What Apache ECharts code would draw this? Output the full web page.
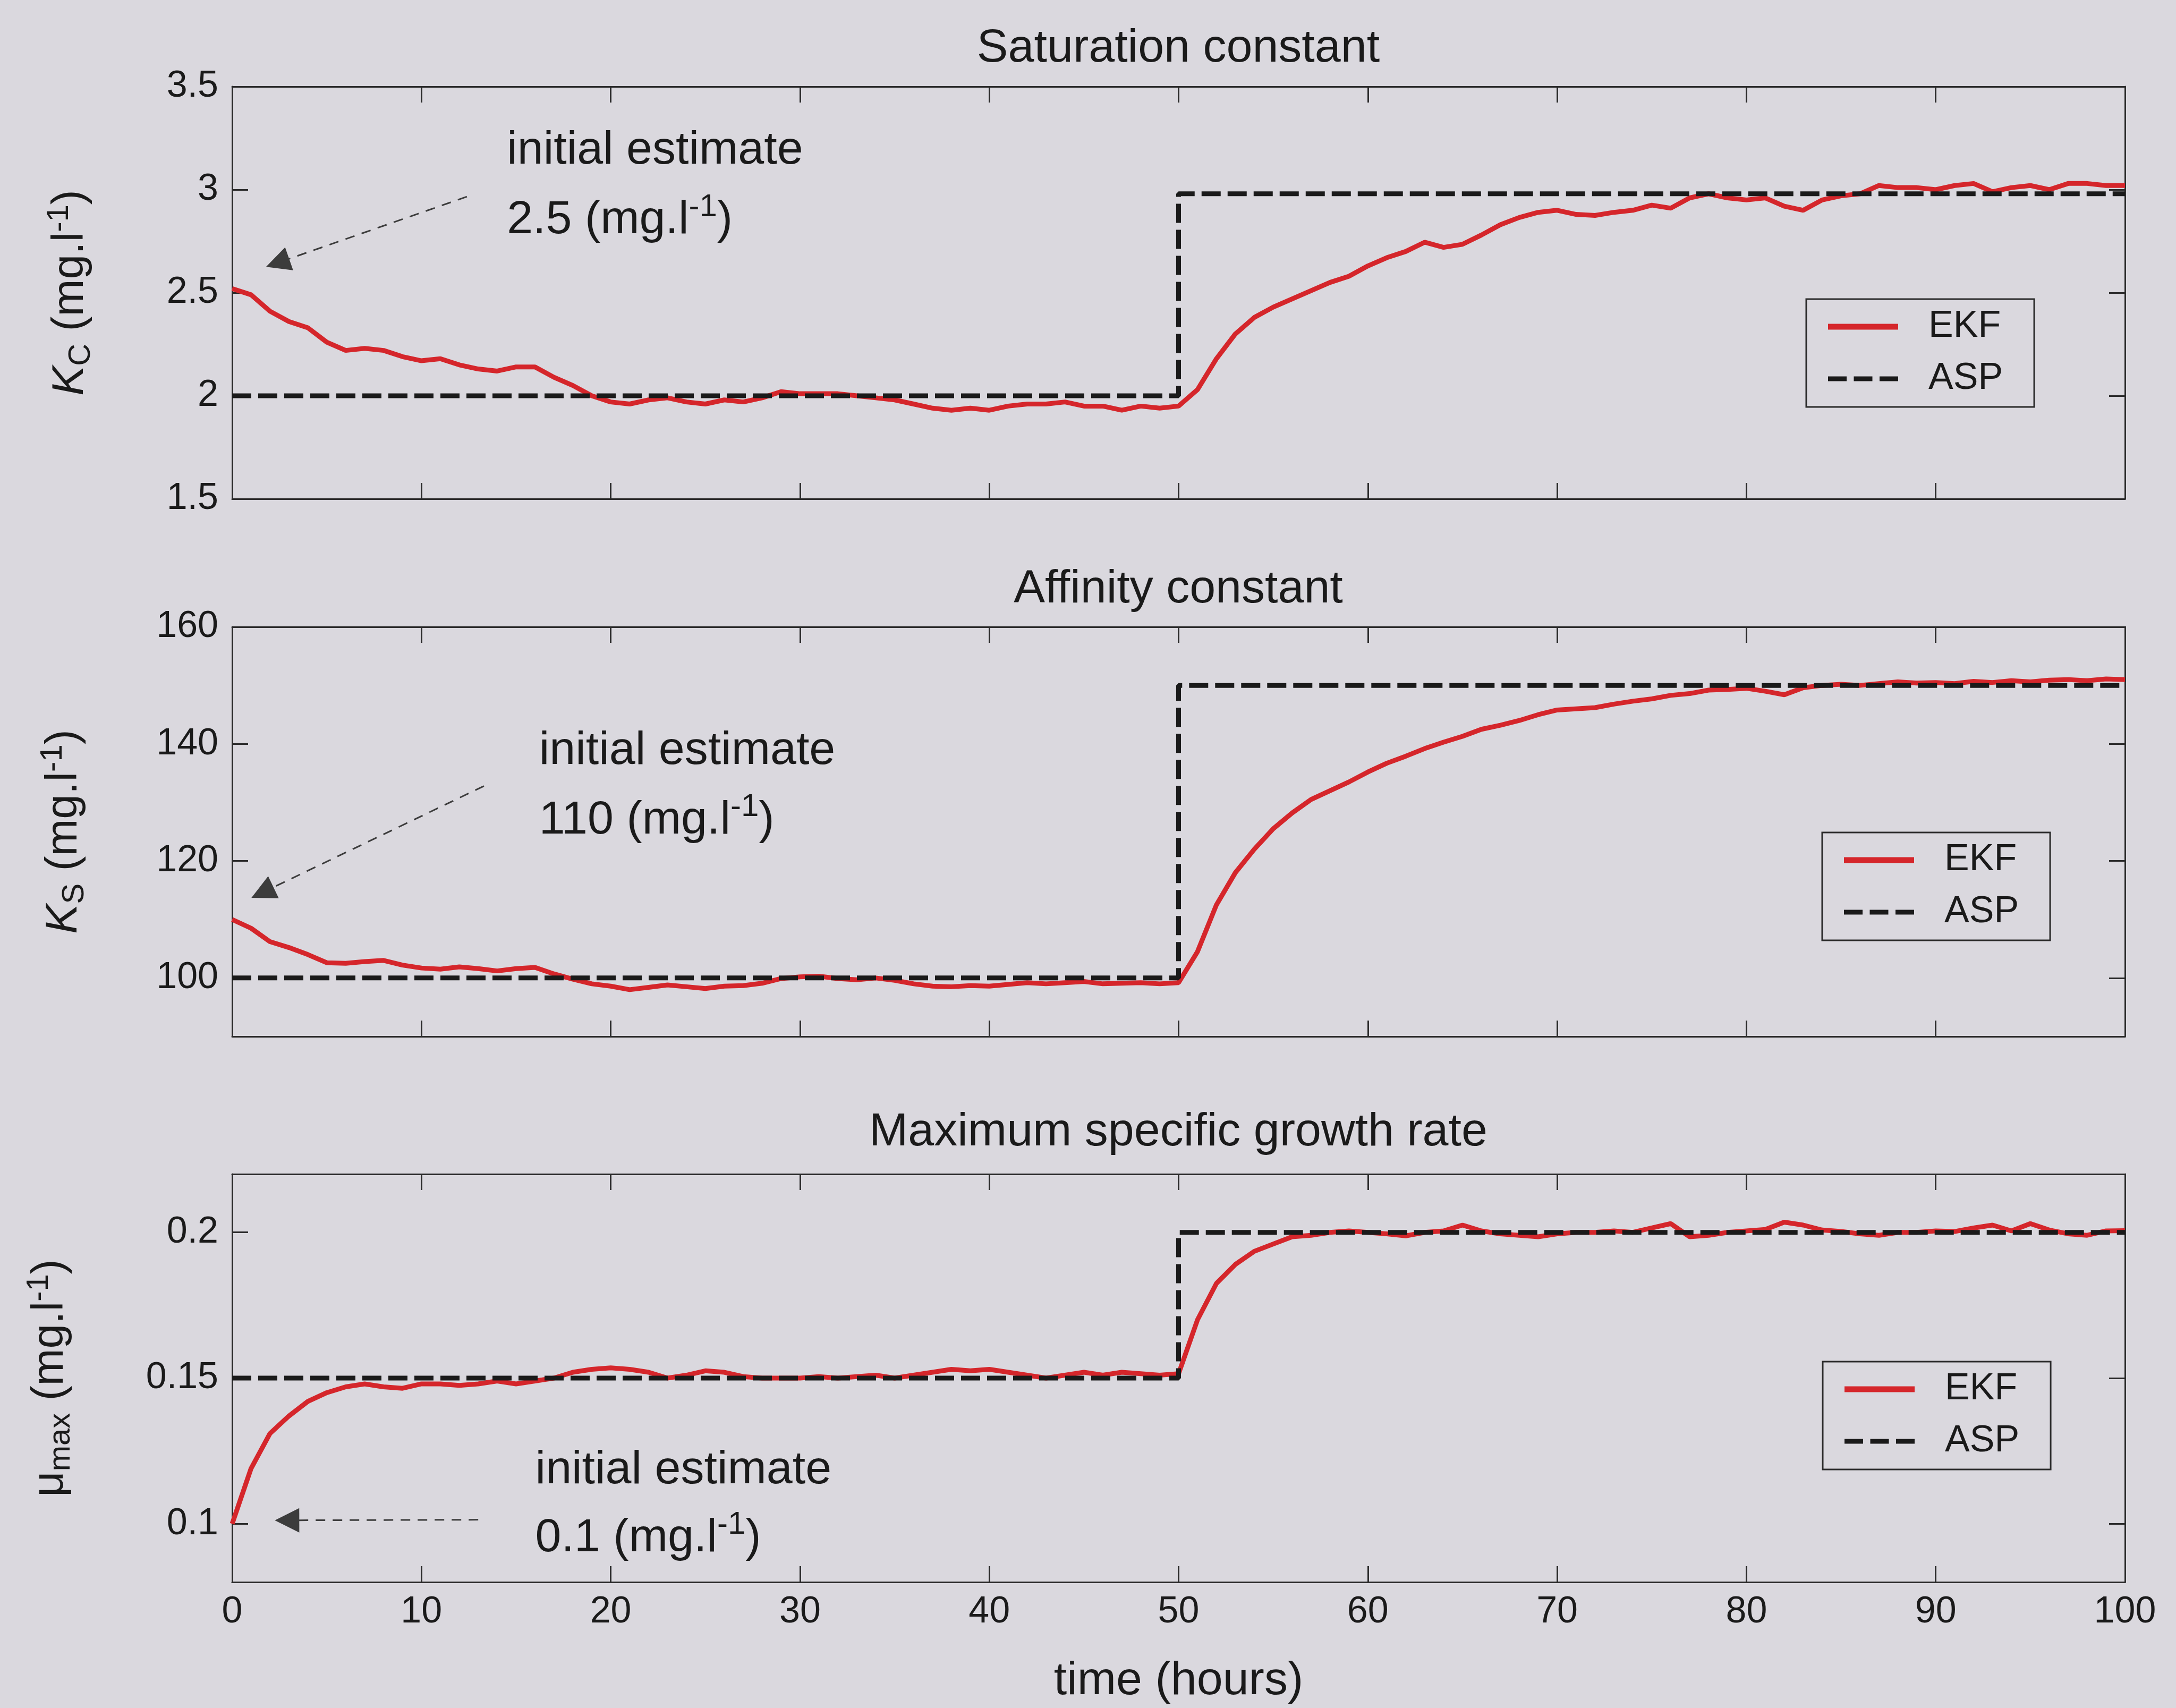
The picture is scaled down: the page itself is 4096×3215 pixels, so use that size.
<!DOCTYPE html>
<html>
<head>
<meta charset="utf-8">
<script src="https://cdn.jsdelivr.net/npm/echarts@6/dist/echarts.min.js"></script>
<style>
  html, body { margin: 0; padding: 0; background: #dad8de; }
  #chart_view { width: 4096px; height: 3215px; }
</style>
</head>
<body>
<div id="chart_view"></div>
<script>
// time axis (hours) shared by the three EKF traces
var hours = [0, 1, 2, 3, 4, 5, 6, 7, 8, 9, 10, 11, 12, 13, 14, 15, 16, 17, 18, 19,
  20, 21, 22, 23, 24, 25, 26, 27, 28, 29, 30, 31, 32, 33, 34, 35, 36, 37, 38, 39,
  40, 41, 42, 43, 44, 45, 46, 47, 48, 49, 50, 51, 52, 53, 54, 55, 56, 57, 58, 59,
  60, 61, 62, 63, 64, 65, 66, 67, 68, 69, 70, 71, 72, 73, 74, 75, 76, 77, 78, 79,
  80, 81, 82, 83, 84, 85, 86, 87, 88, 89, 90, 91, 92, 93, 94, 95, 96, 97, 98, 99, 100];

// saturation constant Kc, EKF estimate
var kcEkf = [2.52, 2.49, 2.41, 2.36, 2.33, 2.26, 2.22, 2.23, 2.22, 2.19,
  2.17, 2.18, 2.15, 2.13, 2.12, 2.14, 2.14, 2.09, 2.05, 2.00,
  1.97, 1.96, 1.98, 1.99, 1.97, 1.96, 1.98, 1.97, 1.99, 2.02,
  2.01, 2.01, 2.01, 2.00, 1.99, 1.98, 1.96, 1.94, 1.93, 1.94,
  1.93, 1.95, 1.96, 1.96, 1.97, 1.95, 1.95, 1.93, 1.95, 1.94,
  1.95, 2.03, 2.18, 2.30, 2.38, 2.43, 2.47, 2.51, 2.55, 2.58,
  2.63, 2.67, 2.70, 2.745, 2.72, 2.735, 2.78, 2.83, 2.865, 2.89,
  2.90, 2.88, 2.875, 2.89, 2.90, 2.925, 2.91, 2.96, 2.98, 2.96,
  2.95, 2.96, 2.92, 2.90, 2.95, 2.97, 2.98, 3.02, 3.01, 3.01,
  3.00, 3.02, 3.03, 2.99, 3.01, 3.02, 3.00, 3.03, 3.03, 3.02, 3.02];

// affinity constant Ks, EKF estimate
var ksEkf = [110, 108.5, 106.2, 105.2, 104.0, 102.6, 102.5, 102.8, 103.0, 102.2,
  101.7, 101.5, 101.9, 101.6, 101.2, 101.6, 101.8, 100.7, 99.8, 99.0,
  98.6, 98.0, 98.4, 98.8, 98.5, 98.2, 98.6, 98.7, 99.1, 99.9,
  100.2, 100.3, 99.9, 99.7, 100.0, 99.6, 99.0, 98.6, 98.5, 98.7,
  98.6, 98.9, 99.2, 99.0, 99.2, 99.4, 99.0, 99.1, 99.2, 99.0,
  99.2, 104.5, 112.5, 118.0, 122.0, 125.5, 128.2, 130.5, 132.0, 133.5,
  135.2, 136.7, 137.9, 139.2, 140.3, 141.3, 142.5, 143.2, 144.0, 145.0,
  145.8, 146.0, 146.2, 146.8, 147.3, 147.7, 148.3, 148.6, 149.2, 149.3,
  149.5, 149.0, 148.4, 149.6, 150.0, 150.2, 150.0, 150.3, 150.6, 150.4,
  150.5, 150.3, 150.7, 150.5, 150.8, 150.6, 150.9, 151.0, 150.8, 151.1, 151.0];

// maximum specific growth rate mu_max, EKF estimate
var muEkf = [0.100, 0.119, 0.131, 0.137, 0.142, 0.145, 0.147, 0.148, 0.147, 0.1465,
  0.148, 0.148, 0.1475, 0.148, 0.149, 0.148, 0.149, 0.150, 0.152, 0.153,
  0.1535, 0.153, 0.152, 0.150, 0.151, 0.1525, 0.152, 0.1505, 0.150, 0.150,
  0.150, 0.1505, 0.150, 0.1505, 0.151, 0.150, 0.151, 0.152, 0.153, 0.1525,
  0.153, 0.152, 0.151, 0.150, 0.151, 0.152, 0.151, 0.152, 0.1515, 0.151,
  0.1515, 0.170, 0.1825, 0.189, 0.1935, 0.196, 0.1985, 0.199, 0.200, 0.2005,
  0.200, 0.1995, 0.1988, 0.200, 0.2005, 0.2025, 0.2005, 0.1995, 0.199, 0.1985,
  0.1995, 0.200, 0.200, 0.2005, 0.200, 0.2015, 0.203, 0.1985, 0.199, 0.200,
  0.2005, 0.201, 0.2035, 0.2025, 0.2008, 0.2003, 0.1995, 0.199, 0.200, 0.200,
  0.2005, 0.2003, 0.2015, 0.2025, 0.2005, 0.203, 0.2008, 0.1995, 0.199, 0.2005, 0.2006];

// ASP reference values (step at 50 h)
var stepHours = [0, 50, 50, 100];
var kcAsp = [2, 2, 2.98, 2.98];
var ksAsp = [100, 100, 150, 150];
var muAsp = [0.15, 0.15, 0.2, 0.2];

// tick labels
var kcTicks = [1.5, 2, 2.5, 3, 3.5];
var ksTicks = [100, 120, 140, 160];
var muTicks = [0.1, 0.15, 0.2];

var titles = ['Saturation constant', 'Affinity constant', 'Maximum specific growth rate'];
var yNames = ['{it|K}{sub|C} (mg.l{sup|-1})', '{it|K}{sub|S} (mg.l{sup|-1})', '{mu|\u03bc}{sub|max} (mg.l{sup|-1})'];
var noteValues = ['2.5', '110', '0.1'];

// annotation arrows: [tail, tip] in data coordinates
var kcArrow = [[12.4, 2.966], [2.4, 2.645]];
var ksArrow = [[13.3, 132.8], [1.6, 114.6]];
var muArrow = [[13.0, 0.1014], [2.9, 0.1012]];
// annotation text anchors: [first line, second line]
var kcNote = [[14.5, 3.19], [14.5, 2.85]];
var ksNote = [[16.2, 138.8], [16.2, 126.9]];
var muNote = [[16.0, 0.1183], [16.0, 0.0950]];

var FONT = 'Liberation Sans';
var INK = '#1a1a1a';
var AXIS = '#2b2b2b';
var RED = '#d5262b';
var BG = '#dad8de';

var panels = [
  { ekf: kcEkf, asp: kcAsp, ticks: kcTicks, min: 1.5, max: 3.5, arrow: kcArrow, note: kcNote, nameGap: 262,
    grid: { top: 163, height: 776 }, legend: { left: 3400, top: 563 }, titleTop: 48 },
  { ekf: ksEkf, asp: ksAsp, ticks: ksTicks, min: 90, max: 160, arrow: ksArrow, note: ksNote, nameGap: 274,
    grid: { top: 1180, height: 771 }, legend: { left: 3430, top: 1567 }, titleTop: 1066 },
  { ekf: muEkf, asp: muAsp, ticks: muTicks, min: 0.08, max: 0.22, arrow: muArrow, note: muNote, nameGap: 300,
    grid: { top: 2210, height: 768 }, legend: { left: 3431, top: 2563 }, titleTop: 2088 }
];

var lineAxis = { show: true, onZero: false, lineStyle: { color: AXIS, width: 3 } };
var tickStyle = { color: AXIS, width: 3 };
var tickFont = { color: INK, fontFamily: FONT, fontSize: 70 };

var grid = [], xAxis = [], yAxis = [], series = [], title = [], legend = [];

panels.forEach(function (p, i) {
  var last = i === panels.length - 1;
  grid.push({ left: 437, right: 96, top: p.grid.top, height: p.grid.height });

  title.push({
    text: titles[i], left: 2218, top: p.titleTop, textAlign: 'center', padding: 0,
    textStyle: { color: INK, fontFamily: FONT, fontSize: 88, fontWeight: 'normal', lineHeight: 88 }
  });

  xAxis.push({
    type: 'value', gridIndex: i, position: 'bottom', min: 0, max: 100, interval: 10,
    axisLine: lineAxis,
    axisTick: { show: true, inside: true, length: 30, lineStyle: tickStyle },
    axisLabel: Object.assign({ show: last, margin: 22, lineHeight: 70 }, tickFont),
    splitLine: { show: false },
    name: last ? 'time (hours)' : '', nameLocation: 'middle', nameGap: 143,
    nameTextStyle: { color: INK, fontFamily: FONT, fontSize: 88, lineHeight: 88 }
  });
  xAxis.push({
    type: 'value', gridIndex: i, position: 'top', min: 0, max: 100, interval: 10,
    axisLine: lineAxis,
    axisTick: { show: true, inside: true, length: 30, lineStyle: tickStyle },
    axisLabel: { show: false }, splitLine: { show: false }
  });

  yAxis.push({
    type: 'value', gridIndex: i, position: 'left', min: p.min, max: p.max,
    axisLine: lineAxis,
    axisTick: { show: true, inside: true, length: 30, lineStyle: tickStyle, customValues: p.ticks },
    axisLabel: Object.assign({ margin: 26, customValues: p.ticks }, tickFont),
    splitLine: { show: false },
    name: yNames[i], nameLocation: 'middle', nameRotate: 90, nameGap: p.nameGap,
    nameTextStyle: {
      color: INK, fontFamily: FONT, fontSize: 84, lineHeight: 84,
      rich: {
        it: { fontFamily: FONT, fontSize: 84, lineHeight: 84, fontStyle: 'italic', color: INK },
        mu: { fontFamily: FONT, fontSize: 84, lineHeight: 84, color: INK },
        sub: { fontFamily: FONT, fontSize: 58, lineHeight: 58, padding: [40, 0, 0, 0], color: INK },
        sup: { fontFamily: FONT, fontSize: 58, lineHeight: 58, padding: [0, 0, 42, 0], color: INK }
      }
    }
  });
  yAxis.push({
    type: 'value', gridIndex: i, position: 'right', min: p.min, max: p.max,
    axisLine: lineAxis,
    axisTick: { show: true, inside: true, length: 30, lineStyle: tickStyle, customValues: p.ticks },
    axisLabel: { show: false }, splitLine: { show: false }
  });

  var noteStyle = {
    show: true, position: 'right', distance: 0, color: INK, fontFamily: FONT, fontSize: 88, lineHeight: 88,
    rich: { sup: { fontFamily: FONT, fontSize: 60, lineHeight: 60, padding: [0, 0, 50, 0], color: INK } }
  };

  series.push({
    name: 'EKF', type: 'line', xAxisIndex: 2 * i, yAxisIndex: 2 * i,
    data: hours.map(function (t, k) { return [t, p.ekf[k]]; }),
    symbol: 'none', z: 2,
    lineStyle: { color: RED, width: 9 }, itemStyle: { color: RED },
    markLine: {
      silent: true, symbol: ['none', 'triangle'], symbolSize: 46, animation: false,
      lineStyle: { type: [18, 14], color: '#3c3c3c', width: 3 }, label: { show: false },
      data: [[{ coord: p.arrow[0] }, { coord: p.arrow[1], itemStyle: { color: '#111' } }]]
    },
    markPoint: {
      silent: true, symbol: 'circle', symbolSize: 1, itemStyle: { color: 'rgba(0,0,0,0)' }, animation: false,
      data: [
        { coord: p.note[0], label: Object.assign({}, noteStyle, { formatter: 'initial estimate' }) },
        { coord: p.note[1], label: Object.assign({}, noteStyle, { formatter: noteValues[i] + ' (mg.l{sup|-1})' }) }
      ]
    }
  });
  series.push({
    name: 'ASP', type: 'line', xAxisIndex: 2 * i, yAxisIndex: 2 * i,
    data: stepHours.map(function (t, k) { return [t, p.asp[k]]; }),
    symbol: 'none', z: 3,
    lineStyle: { color: INK, width: 9, type: [36, 13] }, itemStyle: { color: INK }
  });

  legend.push({
    data: [
      { name: 'EKF', icon: 'rect' },
      { name: 'ASP', icon: 'path://M0,0H65V17H0Z M90,0H155V17H90Z M180,0H245V17H180Z' }
    ],
    orient: 'vertical', left: p.legend.left, top: p.legend.top,
    padding: [17, 59, 18, 41], itemGap: 28, itemWidth: 132, itemHeight: 11,
    borderColor: AXIS, borderWidth: 3, borderRadius: 0, backgroundColor: BG,
    selectedMode: false,
    textStyle: { color: INK, fontFamily: FONT, fontSize: 70, lineHeight: 70, padding: [0, 0, 0, 52] }
  });
});

var myChart = echarts.init(document.getElementById('chart_view'));
myChart.setOption({
  backgroundColor: BG,
  animation: false,
  title: title,
  legend: legend,
  grid: grid,
  xAxis: xAxis,
  yAxis: yAxis,
  series: series
});
</script>
</body>
</html>
